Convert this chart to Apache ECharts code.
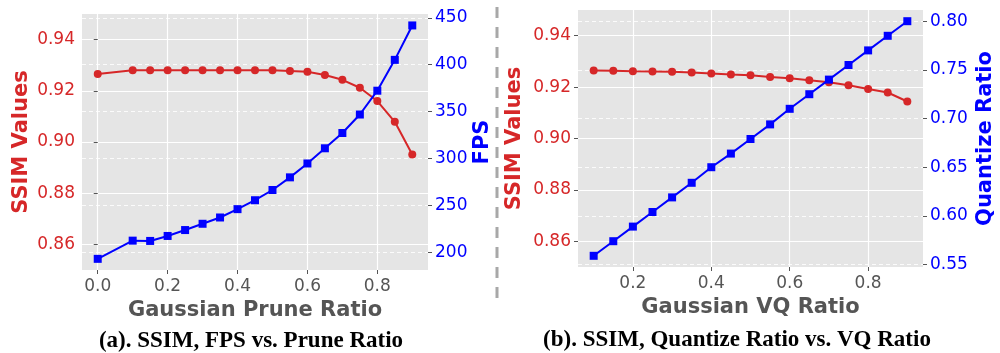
<!DOCTYPE html>
<html>
<head>
<meta charset="utf-8">
<script src="https://cdn.jsdelivr.net/npm/echarts@6/dist/echarts.min.js"></script>
<style>
  html, body { margin: 0; padding: 0; background: #fff; }
  #chart { width: 1000px; height: 353px; }
</style>
</head>
<body>
<div id="chart"></div>
<script>
// (a) prune ratio sweep
const pruneRatio = [0, 0.1, 0.15, 0.2, 0.25, 0.3, 0.35, 0.4, 0.45, 0.5, 0.55, 0.6, 0.65, 0.7, 0.75, 0.8, 0.85, 0.9];
const pruneSsim = [0.9266, 0.928, 0.928, 0.928, 0.928, 0.928, 0.928, 0.928, 0.928, 0.928, 0.9277, 0.9274, 0.9262, 0.9243, 0.9212, 0.916, 0.9079, 0.8951];
const pruneFps = [192.9, 212.3, 212.0, 217.3, 223.6, 230.3, 237.0, 245.9, 255.4, 266.3, 279.8, 294.6, 310.8, 327.1, 346.8, 372.2, 405.1, 441.8];

// (b) VQ ratio sweep
const vqRatio = [0.1, 0.15, 0.2, 0.25, 0.3, 0.35, 0.4, 0.45, 0.5, 0.55, 0.6, 0.65, 0.7, 0.75, 0.8, 0.85, 0.9];
const vqSsim = [0.9265, 0.9264, 0.9262, 0.9261, 0.926, 0.9257, 0.9253, 0.9249, 0.9246, 0.9239, 0.9234, 0.9227, 0.9219, 0.9207, 0.9193, 0.9179, 0.9144];
const vqQuant = [0.559, 0.574, 0.589, 0.604, 0.619, 0.634, 0.65, 0.664, 0.679, 0.694, 0.71, 0.725, 0.74, 0.755, 0.77, 0.785, 0.8];

// tick values
const pruneTicks = [0, 0.2, 0.4, 0.6, 0.8];
const vqTicks = [0.2, 0.4, 0.6, 0.8];
const ssimTicks = [0.86, 0.88, 0.9, 0.92, 0.94];
const fpsTicks = [200, 250, 300, 350, 400, 450];
const quantTicks = [0.55, 0.6, 0.65, 0.7, 0.75, 0.8];

const captions = ["(a). SSIM, FPS vs. Prune Ratio", "(b). SSIM, Quantize Ratio vs. VQ Ratio"];

const red = "#d62728";
const blue = "#0000ff";
const gray = "#555555";
const font = "DejaVu Sans";

const pairs = (xs, ys) => xs.map((x, i) => [x, ys[i]]);

function xAxis(gridIndex, min, max, ticks, name) {
  return {
    type: "value", gridIndex, min, max,
    name, nameLocation: "middle", nameGap: 28,
    nameTextStyle: { color: gray, fontFamily: font, fontWeight: "bold", fontSize: 21 },
    axisLine: { show: false },
    axisTick: { show: true, length: 4, customValues: ticks, lineStyle: { color: gray } },
    axisLabel: { customValues: ticks, margin: 8, color: gray, fontFamily: font, fontSize: 17,
      formatter: (v) => v.toFixed(1) },
    splitLine: { show: true, lineStyle: { color: "#ffffff", width: 1.2 } },
  };
}

function yAxis(gridIndex, position, min, max, ticks, name, color, digits, nameGap, dashed) {
  return {
    type: "value", gridIndex, position, min, max,
    name, nameLocation: "middle", nameGap, nameRotate: 90,
    nameTextStyle: { color, fontFamily: font, fontWeight: "bold", fontSize: 21 },
    axisLine: { show: false },
    axisTick: { show: true, length: 4, customValues: ticks, lineStyle: { color: gray } },
    axisLabel: { customValues: ticks, margin: 7, color, fontFamily: font, fontSize: 17,
      formatter: (v) => v.toFixed(digits) },
    splitLine: dashed
      ? { show: true, lineStyle: { color: "rgba(255,255,255,0.85)", width: 1, type: [4, 3] } }
      : { show: true, lineStyle: { color: "#ffffff", width: 1.2 } },
  };
}

function lineSeries(xAxisIndex, yAxisIndex, data, color, symbol, z) {
  return {
    type: "line", xAxisIndex, yAxisIndex, data, z,
    symbol, symbolSize: 8,
    showSymbol: true, animation: false,
    lineStyle: { color, width: 2 },
    itemStyle: { color },
  };
}

const chart = echarts.init(document.getElementById("chart"), null, { renderer: "canvas" });

chart.setOption({
  animation: false,
  backgroundColor: "#ffffff",
  grid: [
    { left: 82, top: 14, width: 346, height: 256, show: true, backgroundColor: "#e5e5e5", borderWidth: 0 },
    { left: 578, top: 10, width: 345, height: 257, show: true, backgroundColor: "#e5e5e5", borderWidth: 0 },
  ],
  xAxis: [
    xAxis(0, -0.045, 0.945, pruneTicks, "Gaussian Prune Ratio"),
    xAxis(1, 0.06, 0.94, vqTicks, "Gaussian VQ Ratio"),
  ],
  yAxis: [
    yAxis(0, "left", 0.85, 0.95, ssimTicks, "SSIM Values", red, 2, 50, false),
    yAxis(0, "right", 181, 454, fpsTicks, "FPS", blue, 0, 44, true),
    yAxis(1, "left", 0.85, 0.95, ssimTicks, "SSIM Values", red, 2, 53, false),
    yAxis(1, "right", 0.5475, 0.8115, quantTicks, "Quantize Ratio", blue, 2, 52, true),
  ],
  series: [
    lineSeries(0, 0, pairs(pruneRatio, pruneSsim), red, "circle", 3),
    lineSeries(0, 1, pairs(pruneRatio, pruneFps), blue, "rect", 4),
    lineSeries(1, 2, pairs(vqRatio, vqSsim), red, "circle", 3),
    lineSeries(1, 3, pairs(vqRatio, vqQuant), blue, "rect", 4),
  ],
  graphic: [
    {
      type: "line", silent: true,
      shape: { x1: 497, y1: 7, x2: 497, y2: 300 },
      style: { stroke: "#a8a8a8", lineWidth: 3, lineDash: [11, 9] },
    },
    {
      type: "text", x: 251, y: 341,
      style: { text: captions[0], fill: "#000", font: "bold 23px 'Liberation Serif'", textAlign: "center", textVerticalAlign: "middle" },
    },
    {
      type: "text", x: 737, y: 340,
      style: { text: captions[1], fill: "#000", font: "bold 23px 'Liberation Serif'", textAlign: "center", textVerticalAlign: "middle" },
    },
  ],
});
</script>
</body>
</html>
